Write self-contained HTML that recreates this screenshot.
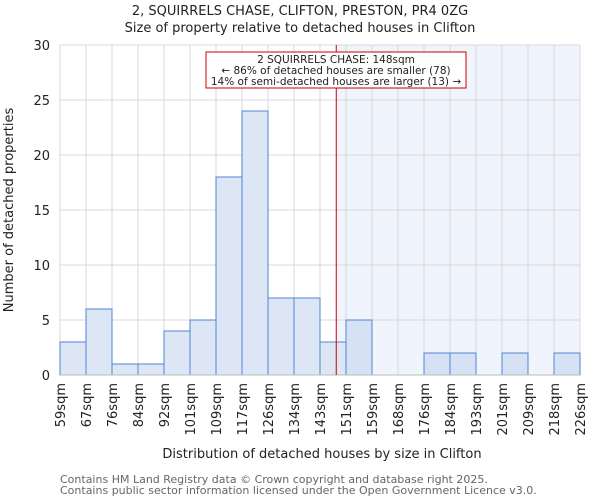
<!DOCTYPE html>
<html><head><meta charset="utf-8"><style>
body{margin:0;background:#fff;font-family:"DejaVu Sans","Liberation Sans",sans-serif;}
</style></head><body>
<svg id="chart" width="600" height="500" xmlns="http://www.w3.org/2000/svg" font-family="DejaVu Sans, Liberation Sans, sans-serif">
<text x="300" y="15" text-anchor="middle" font-size="13" fill="#222">2, SQUIRRELS CHASE, CLIFTON, PRESTON, PR4 0ZG</text>
<text x="300" y="32" text-anchor="middle" font-size="13" fill="#222">Size of property relative to detached houses in Clifton</text>
<g id="plot"></g>
<text x="322" y="458" text-anchor="middle" font-size="13" fill="#222">Distribution of detached houses by size in Clifton</text>
<text transform="translate(13,210) rotate(-90)" text-anchor="middle" font-size="13" fill="#222">Number of detached properties</text>
<text x="60" y="483" font-size="11" fill="#666">Contains HM Land Registry data © Crown copyright and database right 2025.</text>
<text x="60" y="494" font-size="11" fill="#666">Contains public sector information licensed under the Open Government Licence v3.0.</text>
</svg>
<script>
const binLabels=["59sqm","67sqm","76sqm","84sqm","92sqm","101sqm","109sqm","117sqm","126sqm","134sqm","143sqm","151sqm","159sqm","168sqm","176sqm","184sqm","193sqm","201sqm","209sqm","218sqm","226sqm"];
const counts=[3,6,1,1,4,5,18,24,7,7,3,5,0,0,2,2,0,2,0,2];
const yTicks=[0,5,10,15,20,25,30];
const markerBin=10.625;
const NS="http://www.w3.org/2000/svg";
const X0=60,X1=580,Y0=375,Y1=45,YMAX=30;
const n=counts.length,bw=(X1-X0)/n;
const xs=i=>X0+i*bw;
const ys=v=>Y0-(v/YMAX)*(Y0-Y1);
const g=document.getElementById('plot');
function mk(t,a){const e=document.createElementNS(NS,t);for(const k in a)e.setAttribute(k,a[k]);g.appendChild(e);return e;}
const mx=xs(markerBin);
let e=mk('rect',{x:mx,y:Y1,width:X1-mx,height:Y0-Y1,fill:'#f0f4fc'});


yTicks.forEach(t=>{
 let l=mk('line',{x1:X0,x2:X1,y1:ys(t),y2:ys(t),stroke:'#d8d8d8','stroke-width':1});
 
 
 let tx=mk('text',{x:X0-10,y:ys(t)+5,'text-anchor':'end','font-size':13,fill:'#222'});
 tx.textContent=t;
 
 
});
binLabels.forEach((lb,i)=>{
 let l=mk('line',{x1:xs(i),x2:xs(i),y1:Y1,y2:Y0,stroke:'#d8d8d8','stroke-width':1});
 
 
 let tx=mk('text',{transform:`translate(${xs(i)+5},${Y0+8}) rotate(-90)`,'text-anchor':'end','font-size':13,fill:'#222'});
 tx.textContent=lb;
 
 
});
counts.forEach((v,i)=>{
 if(v<=0)return;
 let r=mk('rect',{x:xs(i),y:ys(v),width:bw,height:Y0-ys(v),fill:i>=11?'#d6e2f3':'#dce6f5',stroke:'#4f86d4','stroke-width':1});
 
 
});
let ax=mk('line',{x1:X0,x2:X1,y1:Y0,y2:Y0,stroke:'#bbb','stroke-width':1});


let ml=mk('line',{x1:mx,x2:mx,y1:Y1,y2:Y0,stroke:'#c00','stroke-width':1});


let box=mk('rect',{x:206,y:52,width:260,height:36,fill:'#fff',stroke:'#c00','stroke-width':1});


["2 SQUIRRELS CHASE: 148sqm","← 86% of detached houses are smaller (78)","14% of semi-detached houses are larger (13) →"].forEach((s,i)=>{
 let t=mk('text',{x:336,y:63+i*11,'text-anchor':'middle','font-size':10.5,fill:'#222'});
 t.textContent=s;
 
 
});
</script>
</body></html>
